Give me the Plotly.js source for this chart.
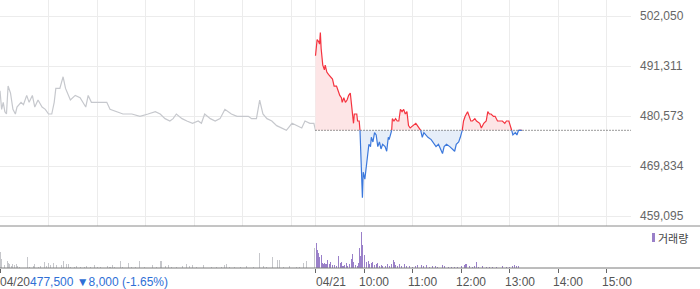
<!DOCTYPE html>
<html><head><meta charset="utf-8">
<script src="https://cdn.plot.ly/plotly-3.0.1.min.js"></script>
<style>html,body{margin:0;padding:0;background:#fff}#chart{width:700px;height:289px}</style>
</head><body><div id="chart"></div>
<script>
// ---- data ----
const prevDateLabel = '04/20';
const todayDateLabel = '04/21';
const prevClose = 477500;
const prevSummary = '477,500 ▼8,000 (-1.65%)';

// 04/20 session: minutes after 09:00 and price
const prevMinutes = [0,2,4,6,8,10,13,16,19,21,26,29,33,36,40,43,47,52,56,60,64,67,69,74,78,81,87,93,99,103,106,109,113,122,126,132,136,144,152,163,173,183,192,198,204,210,214,218,225,231,238,245,249,253,260,266,272,278,282,286,293,301,307,311,317,321,325,330,336,342,348,354,361,367,373,377,383,388,390];
const prevPrices = [486000,482000,483500,481500,481000,487000,485500,482000,481000,482500,483500,483000,485000,483500,485000,482500,484000,482500,482000,481000,481000,483500,486500,486500,489000,486500,484000,485000,484500,483500,482500,485000,483500,483500,483500,483500,482000,481500,481000,481000,480500,481000,481500,481000,480000,479500,480000,481000,480000,479500,479000,479500,479000,481000,480000,479500,480000,482000,481500,481000,480500,480500,480500,480000,480000,484000,481000,480000,479500,478500,478000,477500,479000,478500,478000,479500,479000,479000,477500];

// 04/21 session: minutes after 09:00 and price
const todayMinutes = [0,2,4,5,6,7,9,11,12,14,16,19,21,23,26,28,30,32,33,35,37,39,41,43,44,45,47,48,51,52,54,55,56,58,59,61,63,65,66,68,69,71,73,75,77,79,81,83,86,88,90,91,94,95,97,99,101,103,105,107,109,111,113,115,117,120,124,126,130,132,134,136,139,143,147,149,152,155,157,159,162,166,169,172,174,177,179,181,183,185,188,190,192,194,197,199,203,205,208,211,213,215,217,220,222,225,228,231,234,236,239,241,244,247,249,251,255];
const todayPrices = [493500,497000,496500,496000,498500,495000,491500,490500,491500,490000,489500,489000,488500,487000,487000,486000,485000,484500,483500,484500,483500,484000,485000,485500,483500,481500,479000,481000,481000,479500,479500,477500,471500,463000,468500,467000,470000,473000,474500,474000,476000,475000,477000,476500,474000,475000,473500,474500,474000,473000,476000,475500,477000,480000,479500,480000,479500,479500,482000,481500,482000,481000,481500,478500,478000,478500,479000,478500,477500,476000,477000,476500,476000,475500,474500,474000,474500,473500,472500,474000,474500,474000,473500,473000,474500,475000,476000,477000,479500,480500,481500,480500,479500,479500,480000,479500,479000,478000,479000,479500,481500,481000,481000,480500,480500,479500,479500,479500,479000,479500,479500,478500,476500,477000,476500,477500,477500];

// volume per minute
const prevVolMinutes = [0,2,5,9,10,12,14,16,18,20,22,24,34,37,41,43,47,50,55,57,60,63,66,70,76,79,82,85,87,92,95,99,104,107,112,117,120,124,133,136,139,142,149,152,159,163,167,173,179,189,194,199,204,208,212,218,226,230,234,238,243,251,262,268,274,277,280,284,290,297,305,313,321,326,330,337,343,345,350,358,367,370,375,379,389];
const prevVolumes = [16000,9000,3000,7000,5000,4000,2500,4000,3000,4000,2500,1500,11000,1500,2000,4000,1500,2500,6000,2500,5000,3000,5000,3000,3000,7000,4000,4000,1500,1500,2000,1000,1500,2000,1000,3000,1500,1000,2000,1500,3000,1500,7000,1000,5000,1500,1000,7000,1500,3000,1500,7000,2000,3000,1500,1000,2500,4000,2500,3000,1500,3000,1500,1500,1500,3000,4000,1500,1000,1000,2500,1500,15000,2500,1500,11000,8000,8000,1500,2500,1500,1500,5000,7000,20000];
const todayVolMinutes = [1,3,4,5,7,8,10,11,13,15,17,19,21,23,26,28,29,31,32,34,36,38,40,42,44,45,46,47,49,52,53,54,56,57,58,60,61,63,65,67,69,71,73,75,77,79,81,83,87,89,91,94,96,97,99,101,104,106,110,113,116,120,124,126,131,134,137,141,145,148,151,157,159,164,168,172,176,181,184,186,190,194,197,199,202,207,211,215,219,224,231,236,240,244,246,249,251];
const todayVolumes = [25000,18000,15000,11000,13000,5000,4000,5000,4000,8000,4000,6000,3000,3000,2000,4000,12000,5000,6000,2000,3000,5000,2000,4000,7000,9000,14000,6000,3000,2000,5000,20000,12000,36000,23000,13000,8000,6000,7000,4000,5000,6000,3000,4000,5000,2000,3000,2000,2000,4000,2000,4000,8000,6000,3000,2000,4000,2000,4000,2000,2000,1500,2000,3000,3000,2000,3000,1500,2000,2000,1500,3000,2000,1500,1000,1500,1000,2000,3000,4000,2000,1500,2000,6000,1500,2000,1000,1500,1500,1000,2500,1000,1500,2000,3000,2000,2000];

// axis ticks
const yTickValues = [459095, 469834, 480573, 491311, 502050];
const xTickMinutes = [0, 390, 450, 510, 570, 630, 690, 750];
const xTickLabels = ['04/20', '04/21', '10:00', '11:00', '12:00', '13:00', '14:00', '15:00'];
const xGridMinutes = [0, 60, 120, 180, 240, 300, 360, 390, 450, 510, 570, 630, 690, 750];

// ---- build ----
const SESSION = 390;
const tx = todayMinutes.map(m => m + SESSION);

const up = {x: [], y: []}, dn = {x: [], y: []};
const fx = [], fUp = [], fDn = [];
for (let i = 0; i < tx.length; i++) {
  const y1 = todayPrices[i];
  if (i > 0) {
    const y0 = todayPrices[i - 1];
    if ((y0 - prevClose) * (y1 - prevClose) < 0) {
      const t = (prevClose - y0) / (y1 - y0);
      const xc = tx[i - 1] + t * (tx[i] - tx[i - 1]);
      up.x.push(xc); up.y.push(prevClose);
      dn.x.push(xc); dn.y.push(prevClose);
      fx.push(xc); fUp.push(prevClose); fDn.push(prevClose);
    }
  }
  up.x.push(tx[i]); up.y.push(y1 >= prevClose ? y1 : null);
  dn.x.push(tx[i]); dn.y.push(y1 <= prevClose ? y1 : null);
  fx.push(tx[i]); fUp.push(Math.max(y1, prevClose)); fDn.push(Math.min(y1, prevClose));
}
const baseArr = fx.map(() => prevClose);

const traces = [
  {x: prevMinutes, y: prevPrices, type: 'scatter', mode: 'lines', line: {color: '#c6c8cd', width: 1.2}, hoverinfo: 'skip'},
  {x: fx, y: baseArr, type: 'scatter', mode: 'lines', line: {width: 0}, hoverinfo: 'skip'},
  {x: fx, y: fUp, type: 'scatter', mode: 'lines', line: {width: 0}, fill: 'tonexty', fillcolor: '#fde5e6', hoverinfo: 'skip'},
  {x: fx, y: baseArr, type: 'scatter', mode: 'lines', line: {width: 0}, hoverinfo: 'skip'},
  {x: fx, y: fDn, type: 'scatter', mode: 'lines', line: {width: 0}, fill: 'tonexty', fillcolor: '#e6eef9', hoverinfo: 'skip'},
  {x: [SESSION, 2 * SESSION], y: [prevClose, prevClose], type: 'scatter', mode: 'lines', line: {color: '#333', width: 1, dash: '1px,2px'}, hoverinfo: 'skip'},
  {x: up.x, y: up.y, type: 'scatter', mode: 'lines', line: {color: '#f5333f', width: 1.2}, connectgaps: false, hoverinfo: 'skip'},
  {x: dn.x, y: dn.y, type: 'scatter', mode: 'lines', line: {color: '#3b78dc', width: 1.2}, connectgaps: false, hoverinfo: 'skip'},
  {x: prevVolMinutes, y: prevVolumes, type: 'bar', xaxis: 'x2', yaxis: 'y2', width: 1.3, marker: {color: '#c6c7cb', line: {width: 0}}, hoverinfo: 'skip'},
  {x: todayVolMinutes.map(m => m + SESSION), y: todayVolumes, type: 'bar', xaxis: 'x2', yaxis: 'y2', width: 1.3, marker: {color: '#9a80c9', line: {width: 0}}, hoverinfo: 'skip', name: '거래량'}
];

const W = 700, H = 289, ML = 0, MR = 69, MT = 0, MB = 21;
const PW = W - ML - MR, PH = H - MT - MB;
const px = v => (v - ML) / PW;           // pixel x -> paper
const py = v => (MT + PH - v) / PH;      // pixel y -> paper
const mainBottom = py(226);
const volTop = py(228);

const annotations = [
  {xref: 'x2', yref: 'paper', x: xTickMinutes[0], y: py(282), xanchor: 'left', yanchor: 'middle', xshift: -2, showarrow: false,
   text: prevDateLabel + '<span style="color:#2f6fd6">' + prevSummary + '</span>', font: {size: 12, color: '#555'}},
  {xref: 'paper', yref: 'paper', x: px(656), y: py(237.5), xanchor: 'left', yanchor: 'middle', showarrow: false,
   text: '거래량', font: {size: 11, color: '#444', family: 'Noto Sans CJK KR, sans-serif'}}
];
for (let i = 1; i < xTickMinutes.length; i++) {
  annotations.push({xref: 'x2', yref: 'paper', x: xTickMinutes[i], y: py(282), xanchor: 'left', yanchor: 'middle',
    xshift: i === 1 ? -2 : -7, showarrow: false, text: xTickLabels[i], font: {size: 12, color: '#555'}});
}

const layout = {
  width: W, height: H,
  margin: {l: ML, r: MR, t: MT, b: MB, pad: 0},
  paper_bgcolor: '#fff', plot_bgcolor: '#fff',
  showlegend: false,
  font: {family: 'Liberation Sans, Arial, sans-serif', size: 12, color: '#666'},
  xaxis: {domain: [0, 1], range: [0, 2 * SESSION], anchor: 'y', tickvals: xGridMinutes, showticklabels: false,
          showgrid: true, gridcolor: '#ececec', gridwidth: 1, zeroline: false, showline: false, ticks: '', fixedrange: true},
  yaxis: {domain: [mainBottom, 1], range: [456947, 505486], side: 'right', tickvals: yTickValues,
          ticktext: yTickValues.map(v => v.toLocaleString('en-US')), ticks: '', ticklabelstandoff: 8,
          showgrid: true, gridcolor: '#ececec', zeroline: false, showline: false, tickfont: {size: 12, color: '#666'}},
  xaxis2: {domain: [0, 1], range: [0, 2 * SESSION], anchor: 'y2', tickvals: xTickMinutes, showticklabels: false,
           ticks: 'outside', ticklen: 4, tickcolor: '#666', tickwidth: 1, showgrid: false, zeroline: false, showline: false},
  yaxis2: {domain: [0, volTop], range: [0, 40000], visible: false, fixedrange: true},
  bargap: 0,
  shapes: [
    {type: 'line', xref: 'paper', yref: 'paper', x0: 0, x1: px(W), y0: mainBottom, y1: mainBottom, line: {color: '#8a8a8a', width: 1}},
    {type: 'line', xref: 'paper', yref: 'paper', x0: 0, x1: px(W), y0: 0, y1: 0, line: {color: '#7a7a7a', width: 1}},
    {type: 'rect', xref: 'paper', yref: 'paper', x0: px(652), x1: px(655), y0: py(242), y1: py(233), fillcolor: '#9a80c9', line: {width: 0}}
  ],
  annotations: annotations
};

Plotly.newPlot('chart', traces, layout, {staticPlot: true, displayModeBar: false});
</script>
</body></html>
